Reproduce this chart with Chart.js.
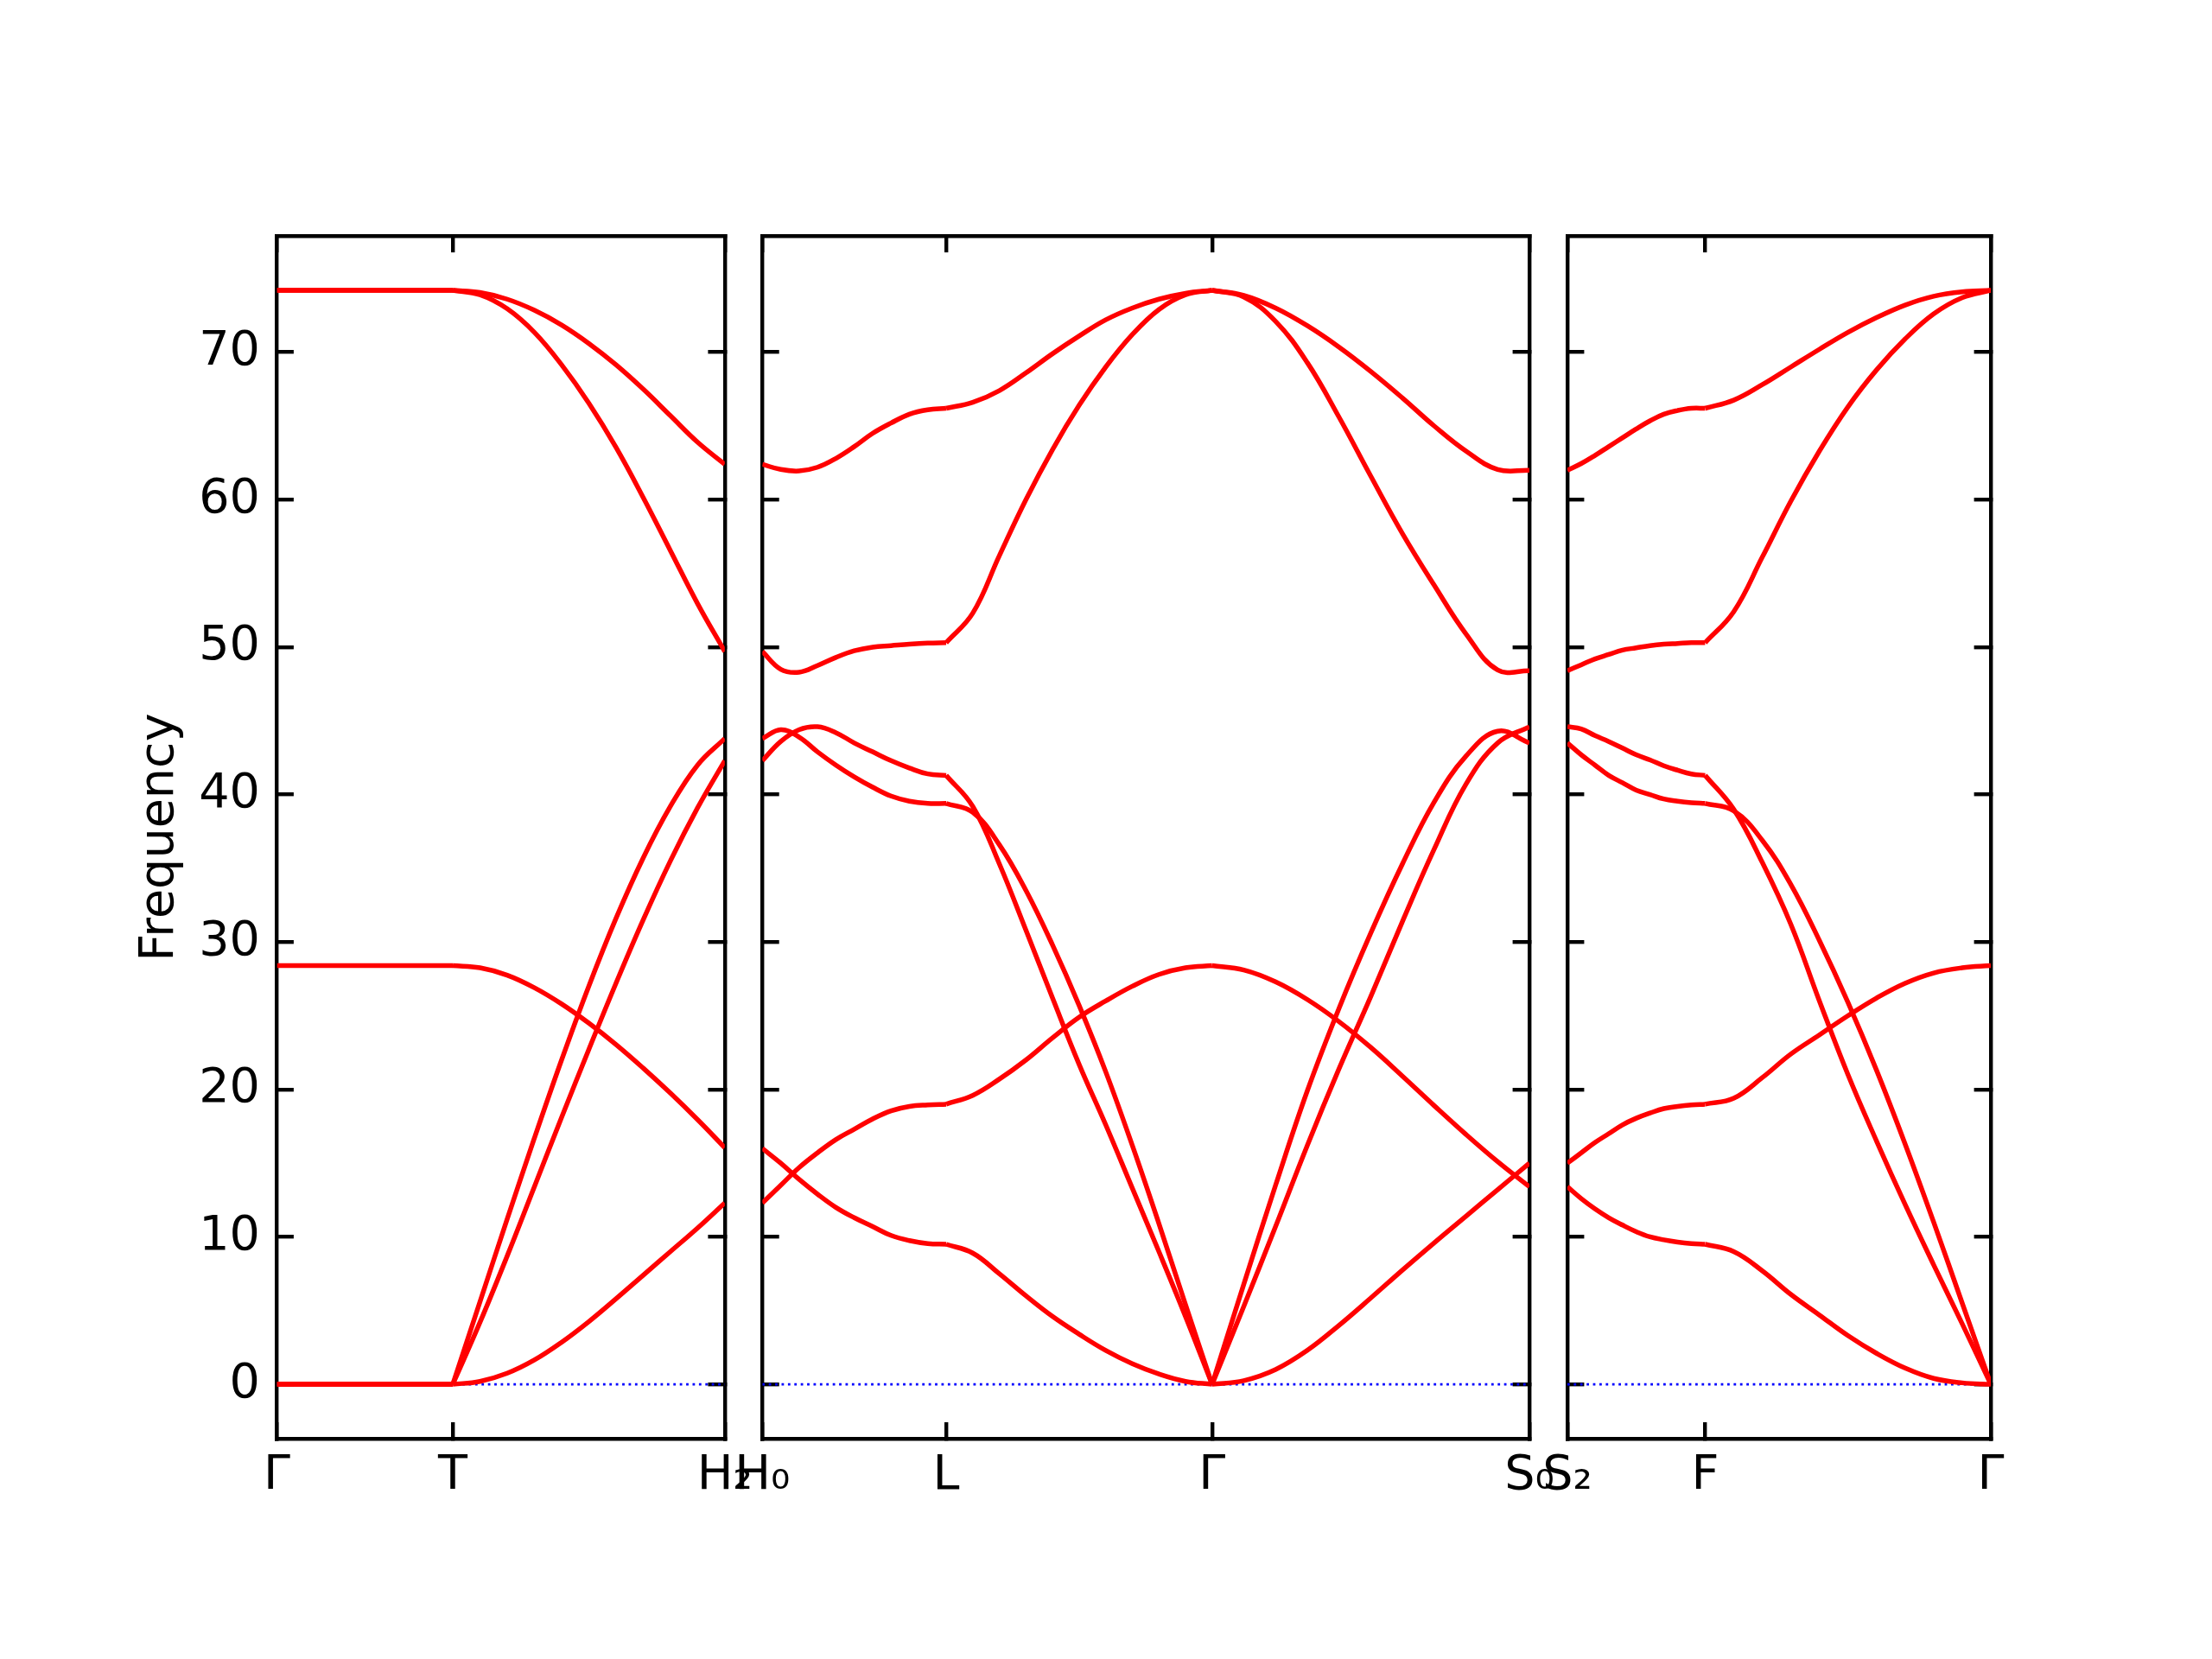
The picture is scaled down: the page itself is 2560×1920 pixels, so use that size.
<!DOCTYPE html>
<html>
<head>
<meta charset="utf-8">
<script src="https://cdn.jsdelivr.net/npm/chart.js@4.4.0/dist/chart.umd.min.js"></script>
<style>
  html, body { margin: 0; padding: 0; background: #fff; }
  #wrap { position: relative; width: 2560px; height: 1920px; background: #fff; }
  #wrap canvas { position: absolute; left: 0; top: 0; }
</style>
</head>
<body>
<div id="wrap">
  <canvas id="p1" width="2560" height="1920"></canvas>
  <canvas id="p2" width="2560" height="1920"></canvas>
  <canvas id="p3" width="2560" height="1920"></canvas>
</div>
<script>
// k-path positions of the high symmetry points, per panel
const ticks1 = [0, 0.2035, 0.5183];
const labels1 = ['Γ', 'T', 'H₂'];
const ticks2 = [0.5183, 0.7310, 1.0388, 1.4060];
const labels2 = ['H₀', 'L', 'Γ', 'S₀'];
const ticks3 = [1.4060, 1.5654, 1.8960];
const labels3 = ['S₂', 'F', 'Γ'];

const yTicks = [0, 10, 20, 30, 40, 50, 60, 70];

// fractions along a segment where the frequencies were read
const tFlat = [0, 1];
const tGrid = [0, 0.1, 0.2, 0.3, 0.4, 0.5, 0.6, 0.7, 0.8, 0.9, 1];

// Γ -> T
const bandsGT = [
  [74.2, 74.2], [74.2, 74.2], [28.4, 28.4], [0, 0], [0, 0], [0, 0]
];
// T -> H2
const bandsTH = [
  [74.2, 74.05, 73.6, 72.85, 71.85, 70.6, 69.15, 67.5, 65.7, 63.9, 62.4],
  [74.2, 73.9, 72.95, 71.35, 69.15, 66.55, 63.55, 60.15, 56.55, 52.95, 49.7],
  [28.4, 28.25, 27.75, 26.9, 25.8, 24.5, 23.05, 21.45, 19.75, 17.95, 16.05],
  [0, 5.6, 11.2, 16.7, 22.0, 27.0, 31.6, 35.7, 39.2, 42.0, 43.8],
  [0, 4.2, 8.7, 13.4, 18.1, 22.7, 27.2, 31.5, 35.5, 39.1, 42.3],
  [0, 0.2, 0.75, 1.65, 2.85, 4.25, 5.8, 7.4, 9.0, 10.6, 12.3]
];
// H0 -> L
const bandsHL = [
  [62.4, 62.05, 61.95, 62.2, 62.8, 63.6, 64.5, 65.2, 65.8, 66.1, 66.2],
  [49.7, 48.5, 48.3, 48.75, 49.3, 49.75, 50.0, 50.1, 50.2, 50.27, 50.3],
  [43.8, 44.4, 43.9, 42.9, 42.0, 41.2, 40.5, 39.9, 39.55, 39.4, 39.4],
  [42.3, 43.6, 44.4, 44.6, 44.2, 43.5, 42.9, 42.3, 41.8, 41.4, 41.3],
  [16.0, 15.0, 13.9, 12.9, 12.0, 11.3, 10.7, 10.1, 9.75, 9.55, 9.5],
  [12.3, 13.5, 14.7, 15.7, 16.6, 17.3, 18.0, 18.55, 18.85, 18.95, 19.0]
];
// L -> Γ
const bandsLG = [
  [66.2, 66.6, 67.4, 68.6, 69.9, 71.1, 72.2, 73.0, 73.6, 74.0, 74.2],
  [50.3, 52.3, 56.2, 60.0, 63.4, 66.4, 69.0, 71.2, 72.9, 73.9, 74.2],
  [41.3, 39.2, 35.3, 30.8, 26.2, 21.7, 17.6, 13.3, 9.0, 4.6, 0],
  [39.4, 38.8, 36.6, 33.5, 29.8, 25.7, 21.2, 16.2, 10.9, 5.4, 0],
  [19.0, 19.6, 20.7, 22.0, 23.5, 24.9, 26.0, 27.0, 27.8, 28.25, 28.4],
  [9.5, 8.9, 7.5, 6.0, 4.6, 3.4, 2.3, 1.4, 0.7, 0.2, 0]
];
// Γ -> S0
const bandsGS = [
  [74.2, 73.85, 73.0, 71.8, 70.35, 68.7, 66.9, 65.0, 63.3, 62.05, 62.0],
  [74.2, 73.75, 72.1, 69.3, 65.6, 61.6, 57.7, 54.2, 50.9, 48.45, 48.4],
  [0, 6.8, 13.5, 19.9, 25.5, 30.6, 35.3, 39.5, 42.6, 44.3, 43.5],
  [0, 5.3, 10.7, 16.2, 21.4, 26.3, 31.4, 36.3, 40.7, 43.5, 44.6],
  [28.4, 28.1, 27.3, 26.1, 24.6, 22.85, 20.9, 18.9, 16.95, 15.1, 13.4],
  [0, 0.25, 1.0, 2.3, 4.0, 5.85, 7.75, 9.6, 11.4, 13.2, 15.0]
];
// S2 -> F
const bandsSF = [
  [62.0, 62.45, 63.0, 63.6, 64.2, 64.8, 65.35, 65.8, 66.05, 66.2, 66.2],
  [48.4, 48.8, 49.2, 49.5, 49.8, 49.95, 50.1, 50.2, 50.25, 50.3, 50.3],
  [44.6, 44.45, 44.0, 43.6, 43.15, 42.7, 42.35, 41.95, 41.65, 41.4, 41.3],
  [43.5, 42.7, 42.0, 41.3, 40.8, 40.3, 40.0, 39.7, 39.55, 39.45, 39.4],
  [15.0, 15.7, 16.4, 17.0, 17.6, 18.05, 18.4, 18.7, 18.85, 18.95, 19.0],
  [13.4, 12.6, 11.9, 11.3, 10.8, 10.35, 10.0, 9.8, 9.65, 9.55, 9.5]
];
// F -> Γ
const bandsFG = [
  [66.2, 66.75, 67.8, 69.0, 70.2, 71.35, 72.35, 73.2, 73.8, 74.1, 74.2],
  [50.3, 52.4, 56.1, 59.9, 63.3, 66.3, 68.8, 70.9, 72.6, 73.7, 74.2],
  [41.3, 39.0, 35.4, 31.2, 26.0, 21.0, 16.5, 12.2, 8.1, 4.1, 0],
  [39.4, 38.9, 36.9, 33.9, 30.1, 25.9, 21.3, 16.3, 11.0, 5.5, 0],
  [19.0, 19.4, 20.8, 22.4, 23.7, 25.0, 26.2, 27.2, 27.9, 28.25, 28.4],
  [9.5, 9.0, 7.7, 6.1, 4.7, 3.3, 2.1, 1.1, 0.4, 0.1, 0]
];

const segments = [
  { panel: 0, from: ticks1[0], to: ticks1[1], t: tFlat, bands: bandsGT },
  { panel: 0, from: ticks1[1], to: ticks1[2], t: tGrid, bands: bandsTH },
  { panel: 1, from: ticks2[0], to: ticks2[1], t: tGrid, bands: bandsHL },
  { panel: 1, from: ticks2[1], to: ticks2[2], t: tGrid, bands: bandsLG },
  { panel: 1, from: ticks2[2], to: ticks2[3], t: tGrid, bands: bandsGS },
  { panel: 2, from: ticks3[0], to: ticks3[1], t: tGrid, bands: bandsSF },
  { panel: 2, from: ticks3[1], to: ticks3[2], t: tGrid, bands: bandsFG }
];

// layout (pixels) and style
const Y_MIN = -3.71, Y_MAX = 77.91;
const PLOT_TOP = 272.7, PLOT_BOTTOM = 1665.4;
const PAD_LEFT = 100;
const X_AXIS_H = 150;
const TICK_LEN = 19.4;
const AXIS_LW = 4.4;
const BAND_LW = 5.5;
const FONT = { family: 'DejaVu Sans', size: 55.6 };

const frames = [
  { id: 'p1', left: 320.5, right: 838.8, ticks: ticks1, labels: labels1 },
  { id: 'p2', left: 882.3, right: 1770, ticks: ticks2, labels: labels2 },
  { id: 'p3', left: 1814, right: 2304, ticks: ticks3, labels: labels3 }
];

Chart.defaults.color = '#000';
Chart.defaults.font.family = FONT.family;

function gridOpts() {
  return {
    display: true, drawOnChartArea: false, drawTicks: true,
    tickLength: -TICK_LEN, tickWidth: AXIS_LW, tickColor: '#000',
    lineWidth: AXIS_LW, color: '#000'
  };
}

function xAxis(frame, position) {
  const bottom = position === 'bottom';
  return {
    type: 'linear', position: position, bounds: 'data',
    min: frame.ticks[0], max: frame.ticks[frame.ticks.length - 1],
    afterBuildTicks: s => { s.ticks = frame.ticks.map(v => ({ value: v })); },
    afterFit: s => { s.height = bottom ? X_AXIS_H : 0; },
    grid: gridOpts(),
    border: { display: true, color: '#000', width: AXIS_LW },
    ticks: {
      display: bottom, autoSkip: false, maxRotation: 0, minRotation: 0,
      padding: 29, font: FONT, color: '#000',
      callback: (v, i) => frame.labels[i]
    }
  };
}

function yAxis(frame, position, withLabels) {
  return {
    type: 'linear', position: position, bounds: 'data',
    min: Y_MIN, max: Y_MAX,
    afterBuildTicks: s => { s.ticks = yTicks.map(v => ({ value: v })); },
    afterFit: s => { s.width = withLabels ? frame.left - PAD_LEFT : 0; },
    grid: gridOpts(),
    border: { display: true, color: '#000', width: AXIS_LW },
    title: {
      display: withLabels, text: 'Frequency', font: FONT, color: '#000',
      padding: { top: 52, bottom: 0 }
    },
    ticks: {
      display: withLabels, padding: 39, font: FONT, color: '#000',
      callback: v => String(v)
    }
  };
}

frames.forEach((frame, i) => {
  const first = i === 0;
  const datasets = [];

  segments.filter(s => s.panel === i).forEach(seg => {
    seg.bands.forEach(band => {
      datasets.push({
        data: band.map((v, j) => ({ x: seg.from + seg.t[j] * (seg.to - seg.from), y: v })),
        borderColor: '#ff0000',
        borderWidth: BAND_LW,
        borderJoinStyle: 'round',
        tension: 0.4,
        pointRadius: 0,
        fill: false
      });
    });
  });

  // dotted zero line, drawn under the bands
  datasets.push({
    data: [{ x: frame.ticks[0], y: 0 }, { x: frame.ticks[frame.ticks.length - 1], y: 0 }],
    borderColor: '#0000ff',
    borderWidth: 2.8,
    borderDash: [2.8, 4.6],
    pointRadius: 0,
    fill: false
  });

  new Chart(document.getElementById(frame.id), {
    type: 'line',
    data: { datasets: datasets },
    options: {
      responsive: false,
      animation: false,
      devicePixelRatio: 1,
      layout: {
        padding: {
          left: first ? PAD_LEFT : frame.left,
          right: 2560 - frame.right,
          top: PLOT_TOP,
          bottom: 1920 - PLOT_BOTTOM - X_AXIS_H
        }
      },
      plugins: { legend: { display: false }, tooltip: { enabled: false } },
      scales: {
        x: xAxis(frame, 'bottom'),
        x2: xAxis(frame, 'top'),
        y: yAxis(frame, 'left', first),
        y2: yAxis(frame, 'right', false)
      }
    }
  });
});
</script>
</body>
</html>
